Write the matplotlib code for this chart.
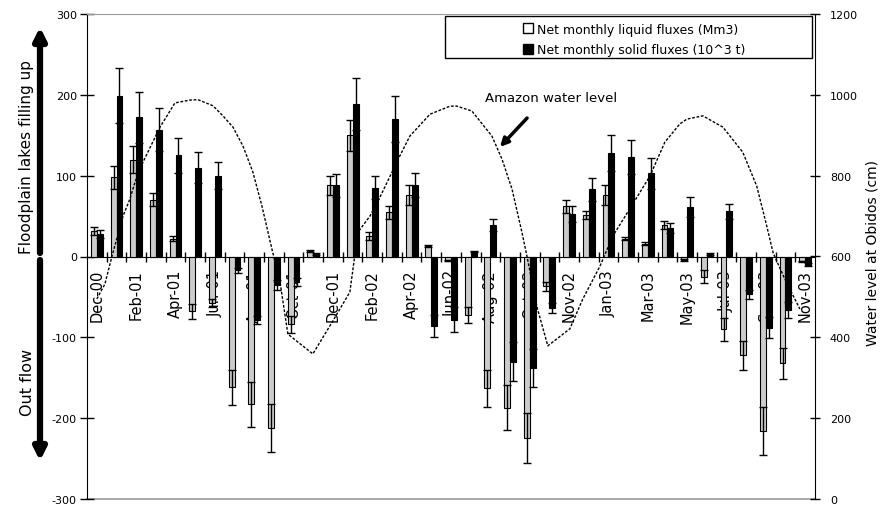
import matplotlib
matplotlib.use('Agg')
import matplotlib.pyplot as plt
from matplotlib.lines import Line2D
from matplotlib.patches import Rectangle, FancyArrowPatch
import numpy as np

plt.rcParams['font.family'] = ['DejaVu Sans']
plt.rcParams['axes.unicode_minus'] = False

# ---------------- data ----------------
tick_labels = ['Dec-00', 'Feb-01', 'Apr-01', 'Jun-01', 'Aug-01', 'Oct-01', 'Dec-01',
               'Feb-02', 'Apr-02', 'Jun-02', 'Aug-02', 'Oct-02', 'Nov-02', 'Jan-03',
               'Mar-03', 'May-03', 'Jul-03', 'Sep-03', 'Nov-03']
n_cat = 37

liquid = [32, 98, 120, 70, 22, -68, -58, -162, -183, -212, -84, 7,
          88, 150, 25, 55, 76, 13, -5, -72, -163, -187, -224, -37,
          62, 51, 76, 22, 16, 39, -4, -25, -90, -122, -216, -132, -6]
liquid_err = [5, 14, 17, 8, 3, 9, 5, 22, 28, 30, 11, 1,
              12, 19, 5, 8, 12, 1, 1, 10, 23, 28, 31, 6,
              8, 5, 12, 2, 2, 5, 1, 8, 14, 18, 30, 19, 1]
solid = [28, 199, 172, 157, 125, 110, 100, -17, -78, -35, -31, 3,
         88, 189, 85, 170, 88, -86, -78, 6, 39, -130, -138, -64,
         53, 83, 128, 123, 103, 35, 61, 3, 56, -47, -88, -66, -10]
solid_err = [5, 34, 31, 27, 22, 19, 17, 3, 5, 6, 5, 1,
             14, 32, 14, 28, 15, 14, 15, 1, 7, 24, 24, 6,
             10, 14, 22, 21, 19, 6, 12, 1, 9, 6, 13, 10, 2]

# Amazon water level at Obidos (month offset from Dec-00, cm)
level_month = [0.0, 0.41, 0.77, 1.33, 1.68, 1.94, 2.35, 3.21, 3.97, 4.73, 5.14, 5.90,
               6.41, 6.92, 7.43, 7.93, 8.39, 8.90, 9.31, 9.71, 10.98, 12.05, 12.86,
               13.27, 13.88, 14.39, 15.40, 15.91, 16.93, 17.95, 18.30, 19.06, 20.08,
               20.59, 21.10, 21.60, 21.86, 22.37, 22.92, 24.04, 24.70, 25.57, 26.23,
               27.24, 28.11, 28.87, 29.63, 29.99, 30.80, 31.82, 32.83, 33.54, 34.05,
               34.36, 34.46, 34.97, 35.73]
level_cm = [495, 532, 601, 700, 742, 784, 834, 920, 980, 987, 988, 973,
            948, 920, 873, 809, 725, 618, 537, 408, 359, 445, 512,
            660, 700, 747, 849, 898, 952, 972, 972, 960, 898,
            841, 767, 661, 601, 475, 379, 421, 495, 576, 651,
            730, 799, 883, 928, 940, 948, 920, 858, 774, 675,
            611, 599, 544, 470]

# ---------------- figure ----------------
W, H = 882, 506
fig = plt.figure(figsize=(W / 100, H / 100), dpi=100)
ax = fig.add_axes([87 / W, 6 / H, 728 / W, 485 / H])

x = np.arange(n_cat)
bw = 0.3
ax.bar(x - bw / 2, liquid, bw, color='#cccccc', edgecolor='black', linewidth=0.8, zorder=3)
ax.errorbar(x - bw / 2, liquid, yerr=liquid_err, fmt='none', ecolor='black',
            elinewidth=1, capsize=3, capthick=1, zorder=4)
ax.bar(x + bw / 2, solid, bw, color='black', edgecolor='black', linewidth=0.8, zorder=3)
ax.errorbar(x + bw / 2, solid, yerr=solid_err, fmt='none', ecolor='black',
            elinewidth=1, capsize=3, capthick=1, zorder=4)

ax.set_xlim(-0.5, n_cat - 0.5)
ax.set_ylim(-300, 300)
ax.set_yticks(np.arange(-300, 301, 100))
ax.tick_params(axis='y', direction='inout', length=10.5, width=1, labelsize=8, pad=2)

ax.spines['bottom'].set_position(('data', 0))
ax.spines['bottom'].set_color('black')
ax.spines['top'].set_color('#9a9a9a')
ax.spines['right'].set_visible(False)
ax.axhline(-300, color='#9a9a9a', lw=1.2, clip_on=False, zorder=1)

ax.set_xticks(np.arange(0, n_cat, 2))
ax.set_xticklabels(tick_labels, rotation=90, fontsize=10.5)
ax.set_xticks(np.arange(0.5, n_cat - 0.5, 1), minor=True)
ax.tick_params(axis='x', which='major', length=0, pad=9)
ax.tick_params(axis='x', which='minor', direction='inout', length=7.5, width=1)

ax2 = ax.twinx()
ax2.plot(level_month, level_cm, color='black', lw=1, linestyle=(0, (2, 1.2)), zorder=5)
ax2.set_ylim(0, 1200)
ax2.set_yticks(np.arange(0, 1201, 200))
ax2.tick_params(axis='y', direction='inout', length=7.5, width=1, labelsize=8, pad=7)
for s in ['top', 'bottom', 'left']:
    ax2.spines[s].set_visible(False)
ax2.spines['right'].set_color('black')

# ---------------- legend ----------------
fig.add_artist(Rectangle((445 / W, 1 - 59 / H), 367 / W, 42 / H, transform=fig.transFigure,
                         fill=False, edgecolor='black', lw=1))
handles = [Line2D([], [], marker='s', markersize=6.5, markerfacecolor='white',
                  markeredgecolor='black', linestyle='none'),
           Line2D([], [], marker='s', markersize=6.5, markerfacecolor='black',
                  markeredgecolor='black', linestyle='none')]
fig.legend(handles, ['Net monthly liquid fluxes (Mm3)', 'Net monthly solid fluxes (10^3 t)'],
           loc='upper left', bbox_to_anchor=(514 / W, 1 - 15 / H), frameon=False,
           fontsize=9, handlelength=0.8, handletextpad=0.35, labelspacing=0.6,
           borderpad=0.2)

# ---------------- annotations ----------------
fig.text(485 / W, 1 - 99 / H, 'Amazon water level', fontsize=9.5, va='center', ha='left')
fig.add_artist(FancyArrowPatch(
    (529 / W, 1 - 117 / H), (498 / W, 1 - 150 / H), transform=fig.transFigure,
    arrowstyle='-|>', mutation_scale=12, lw=2.5, color='black'))

fig.add_artist(FancyArrowPatch(
    (40 / W, 1 - 254 / H), (40 / W, 1 - 28 / H), transform=fig.transFigure,
    arrowstyle='-|>', mutation_scale=18, lw=4.5, color='black', shrinkA=0, shrinkB=0))
fig.add_artist(FancyArrowPatch(
    (40 / W, 1 - 261 / H), (40 / W, 1 - 462 / H), transform=fig.transFigure,
    arrowstyle='-|>', mutation_scale=18, lw=4.5, color='black', shrinkA=0, shrinkB=0))
fig.text(27 / W, 1 - 157 / H, 'Floodplain lakes filling up', rotation=90,
         fontsize=11, va='center', ha='center')
fig.text(27 / W, 1 - 382 / H, 'Out flow', rotation=90, fontsize=11.5, va='center', ha='center')
fig.text(872 / W, 1 - 253 / H, 'Water level at Obidos (cm)', rotation=90,
         fontsize=10, va='center', ha='center')

fig.savefig('out.png', dpi=100)
